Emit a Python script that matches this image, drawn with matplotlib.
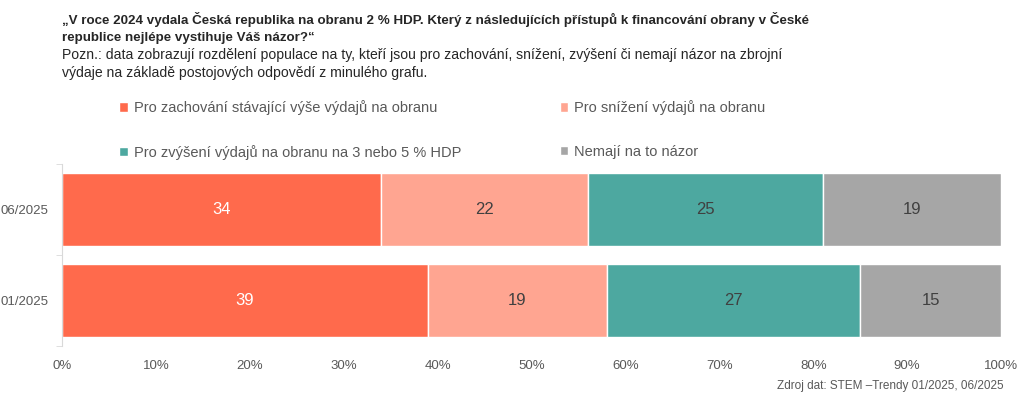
import matplotlib.pyplot as plt
import numpy as np

plt.rcParams['font.family'] = ['Liberation Sans', 'DejaVu Sans']

# data
periods = ["01/2025", "06/2025"]
series = [
    "Pro zachování stávající výše výdajů na obranu",
    "Pro zvýšení výdajů na obranu na 3 nebo 5 % HDP",
    "Pro snížení výdajů na obranu",
    "Nemají na to názor",
]
zachovani = [39, 34]
snizeni = [19, 22]
zvyseni = [27, 25]
nemaji = [15, 19]

colors = {"zach": "#FF6A4C", "sniz": "#FFA591", "zvys": "#4DA8A0", "nem": "#A6A6A6"}

fig = plt.figure(figsize=(10.24, 4.03), dpi=100)
ax = fig.add_axes([62 / 1024, 1 - 346 / 403, (1001 - 62) / 1024, (346 - 164) / 403])

y = np.arange(len(periods))
h = 0.81
left = np.zeros(len(periods))
handles = {}
for key, vals, txtcol in [("zach", zachovani, "white"), ("sniz", snizeni, "#404040"),
                          ("zvys", zvyseni, "#404040"), ("nem", nemaji, "#404040")]:
    vals = np.array(vals)
    b = ax.barh(y, vals, left=left, height=h, color=colors[key], edgecolor="white", linewidth=1)
    handles[key] = b
    for yi, l, v in zip(y, left, vals):
        ax.text(l + v / 2, yi, str(v), ha="center", va="center", color=txtcol, fontsize=12)
    left = left + vals

ax.set_xlim(0, 100)
ax.set_ylim(-0.5, 1.5)
ax.set_xticks(np.arange(0, 101, 10))
ax.set_xticklabels([f"{v}%" for v in range(0, 101, 10)], fontsize=9.5, color="#595959")
ax.set_yticks(y)
ax.set_yticklabels(periods, fontsize=9.5, color="#595959")
ax.tick_params(axis="x", length=0, pad=10)
ax.tick_params(axis="y", length=0, pad=10)
ax.set_yticks([-0.5, 0.5, 1.5], minor=True)
ax.tick_params(axis="y", which="minor", length=4, color="#D9D9D9")
for s in ["top", "right", "bottom"]:
    ax.spines[s].set_visible(False)
ax.spines["left"].set_color("#D9D9D9")

fig.text(62 / 1024, 1 - 28 / 403, "„V roce 2024 vydala Česká republika na obranu 2 % HDP. Který z následujících přístupů k financování obrany v České\nrepublice nejlépe vystihuje Váš názor?“",
         fontsize=9.6, fontweight="bold", color="#262626", va="center", linespacing=1.45)
fig.text(62 / 1024, 1 - 64 / 403, "Pozn.: data zobrazují rozdělení populace na ty, kteří jsou pro zachování, snížení, zvýšení či nemají názor na zbrojní\nvýdaje na základě postojových odpovědí z minulého grafu.",
         fontsize=10.1, color="#262626", va="center", linespacing=1.3)

leg = fig.legend([handles["zach"], handles["zvys"], handles["sniz"], handles["nem"]], series,
                 ncol=2, loc="center left", bbox_to_anchor=(106 / 1024, 1 - 130 / 403),
                 frameon=False, fontsize=10.5, handlelength=0.6, handleheight=0.6,
                 handletextpad=0.4, columnspacing=6.75, labelspacing=2.05, labelcolor="#595959")

fig.text(1004 / 1024, 1 - 386 / 403, "Zdroj dat: STEM –Trendy 01/2025, 06/2025",
         fontsize=8.5, color="#595959", ha="right", va="center")

fig.savefig("out.png", dpi=100)
